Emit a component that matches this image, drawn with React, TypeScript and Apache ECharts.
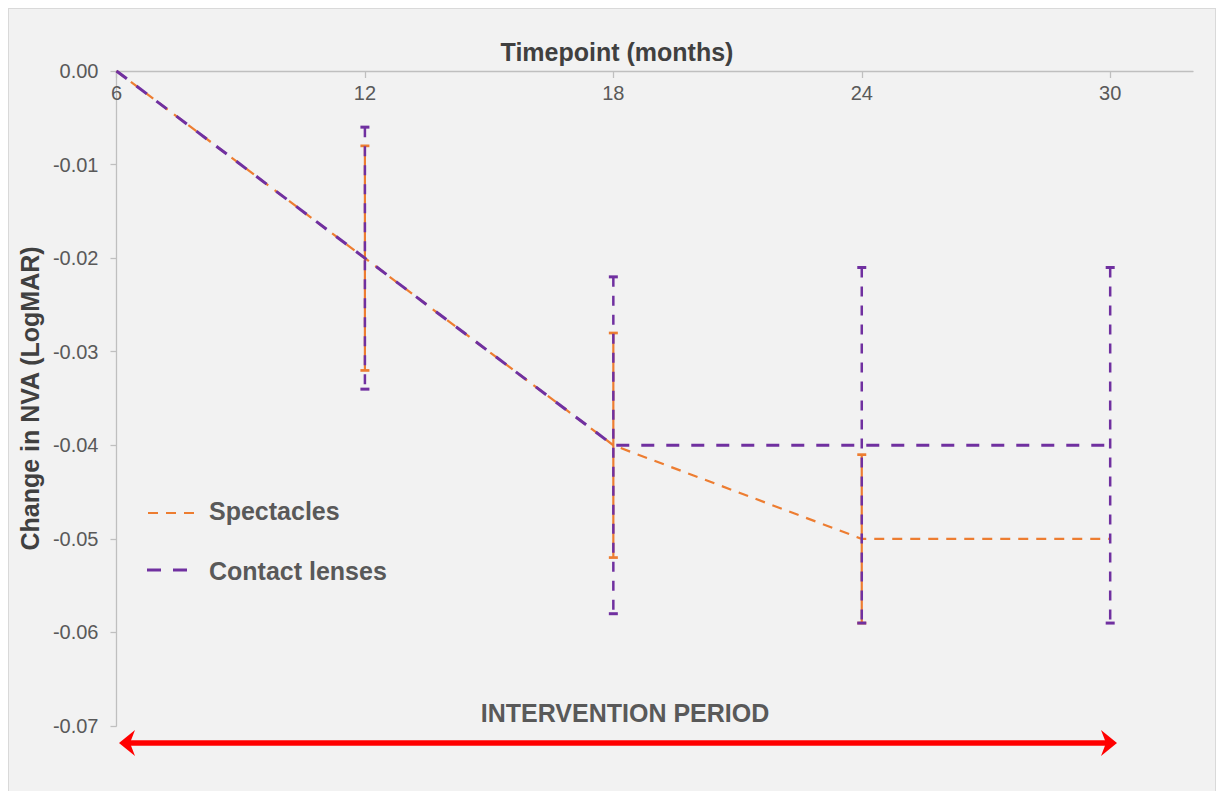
import React, { useEffect, useRef } from "react";
import * as echarts from "echarts";

// ---- data ----
const timepoints = [6, 12, 18, 24, 30];
const spectacles = [0, -0.02, -0.04, -0.05, -0.05];
const contactLenses = [0, -0.02, -0.04, -0.04, -0.04];
const spectaclesErrHigh = [null, -0.008, -0.028, -0.041, null];
const spectaclesErrLow = [null, -0.032, -0.052, -0.059, null];
const contactErrHigh = [null, -0.006, -0.022, -0.021, -0.021];
const contactErrLow = [null, -0.034, -0.058, -0.059, -0.059];
const xTickValues = [6, 12, 18, 24, 30];
const seriesNames = ["Spectacles", "Contact lenses"];
const xTitle = "Timepoint (months)";
const yTitle = "Change in NVA (LogMAR)";
const periodLabel = "INTERVENTION PERIOD";

const ORANGE = "#ED7D31";
const PURPLE = "#7030A0";
const FONT = "'Liberation Sans', Arial, Helvetica, sans-serif";

function errData(low: (number | null)[], high: (number | null)[]) {
  return timepoints
    .map((t, i) => [t, low[i], high[i]])
    .filter((d) => d[1] != null && d[2] != null);
}

function makeErr(color: string, width: number, dash: number[] | null) {
  return (params: any, api: any) => {
    const x = api.value(0);
    const lo = api.coord([x, api.value(1)]);
    const hi = api.coord([x, api.value(2)]);
    const cw = 4.5;
    const st: any = { stroke: color, lineWidth: width };
    if (dash) st.lineDash = dash;
    return {
      type: "group",
      children: [
        {
          type: "line",
          shape: { x1: lo[0], y1: hi[1], x2: lo[0], y2: lo[1] },
          style: st,
        },
        {
          type: "line",
          shape: { x1: hi[0] - cw, y1: hi[1], x2: hi[0] + cw, y2: hi[1] },
          style: { stroke: color, lineWidth: width + 0.5 },
        },
        {
          type: "line",
          shape: { x1: lo[0] - cw, y1: lo[1], x2: lo[0] + cw, y2: lo[1] },
          style: { stroke: color, lineWidth: width + 0.5 },
        },
      ],
    };
  };
}

export default function App() {
  const ref = useRef<HTMLDivElement>(null);
  useEffect(() => {
    const chart = echarts.init(ref.current!, null, { renderer: "svg" });
    const option: any = {
      animation: false,
      textStyle: { fontFamily: FONT },
      grid: { left: 107, top: 62, width: 1077, height: 655 },
      xAxis: {
        type: "value",
        position: "top",
        min: 6,
        max: 32,
        interval: 6,
        axisLine: { show: true, onZero: false, lineStyle: { color: "#bfbfbf", width: 1.3 } },
        axisTick: {
          show: true,
          inside: true,
          length: 7,
          lineStyle: { color: "#bfbfbf", width: 1.3 },
          customValues: xTickValues,
        },
        axisLabel: {
          inside: true,
          margin: 12,
          fontSize: 20,
          color: "#595959",
          customValues: xTickValues,
        },
        splitLine: { show: false },
      },
      yAxis: {
        type: "value",
        min: -0.07,
        max: 0,
        interval: 0.01,
        name: yTitle,
        nameLocation: "middle",
        nameRotate: 90,
        nameGap: 70,
        nameTextStyle: { fontSize: 25, fontWeight: "bold", color: "#404040" },
        axisLine: { show: true, onZero: false, lineStyle: { color: "#bfbfbf", width: 1.3 } },
        axisTick: { show: true, length: 6, lineStyle: { color: "#bfbfbf", width: 1.3 } },
        axisLabel: {
          fontSize: 20,
          color: "#595959",
          margin: 18,
          formatter: (v: number) => v.toFixed(2),
        },
        splitLine: { show: false },
      },
      series: [
        {
          name: seriesNames[0],
          type: "line",
          data: timepoints.map((t, i) => [t, spectacles[i]]),
          symbol: "none",
          lineStyle: { color: ORANGE, width: 2.2, type: [10, 8] },
          z: 2,
        },
        {
          name: seriesNames[0] + " error",
          type: "custom",
          renderItem: makeErr(ORANGE, 2.2, null),
          data: errData(spectaclesErrLow, spectaclesErrHigh),
          encode: { x: 0, y: [1, 2] },
          z: 3,
        },
        {
          name: seriesNames[1],
          type: "line",
          data: timepoints.map((t, i) => [t, contactLenses[i]]),
          symbol: "none",
          lineStyle: { color: PURPLE, width: 3, type: [13, 12] },
          z: 4,
        },
        {
          name: seriesNames[1] + " error",
          type: "custom",
          renderItem: makeErr(PURPLE, 2.5, [10, 9]),
          data: errData(contactErrLow, contactErrHigh),
          encode: { x: 0, y: [1, 2] },
          z: 5,
        },
      ],
      graphic: [
        {
          type: "text",
          x: 608,
          y: 43,
          style: {
            text: xTitle,
            fill: "#404040",
            font: `bold 25px ${FONT}`,
            textAlign: "center",
            textVerticalAlign: "middle",
          },
        },
        {
          type: "line",
          shape: { x1: 139, y1: 504, x2: 188, y2: 504 },
          style: { stroke: ORANGE, lineWidth: 2.2, lineDash: [10, 8] },
        },
        {
          type: "text",
          x: 200,
          y: 502,
          style: {
            text: seriesNames[0],
            fill: "#595959",
            font: `bold 25px ${FONT}`,
            textAlign: "left",
            textVerticalAlign: "middle",
          },
        },
        {
          type: "line",
          shape: { x1: 138, y1: 561, x2: 179, y2: 561 },
          style: { stroke: PURPLE, lineWidth: 3, lineDash: [14, 12] },
        },
        {
          type: "text",
          x: 200,
          y: 562,
          style: {
            text: seriesNames[1],
            fill: "#595959",
            font: `bold 25px ${FONT}`,
            textAlign: "left",
            textVerticalAlign: "middle",
          },
        },
        {
          type: "text",
          x: 616,
          y: 704,
          style: {
            text: periodLabel,
            fill: "#595959",
            font: `bold 25px ${FONT}`,
            textAlign: "center",
            textVerticalAlign: "middle",
          },
        },
        {
          type: "line",
          shape: { x1: 118, y1: 734, x2: 1100, y2: 734 },
          style: { stroke: "#ff0000", lineWidth: 5.5 },
        },
        {
          type: "polygon",
          shape: { points: [[110, 734], [126, 721], [121, 734], [126, 747]] },
          style: { fill: "#ff0000" },
        },
        {
          type: "polygon",
          shape: { points: [[1108, 734], [1092, 721], [1097, 734], [1092, 747]] },
          style: { fill: "#ff0000" },
        },
      ],
    };
    chart.setOption(option);
    return () => chart.dispose();
  }, []);

  return (
    <div
      style={{
        position: "fixed",
        left: 8,
        top: 8,
        width: 1208,
        height: 800,
        border: "1px solid #d9d9d9",
        boxSizing: "border-box",
        background: "#f2f2f2",
      }}
    >
      <div ref={ref} style={{ width: 1206, height: 798 }} />
    </div>
  );
}
